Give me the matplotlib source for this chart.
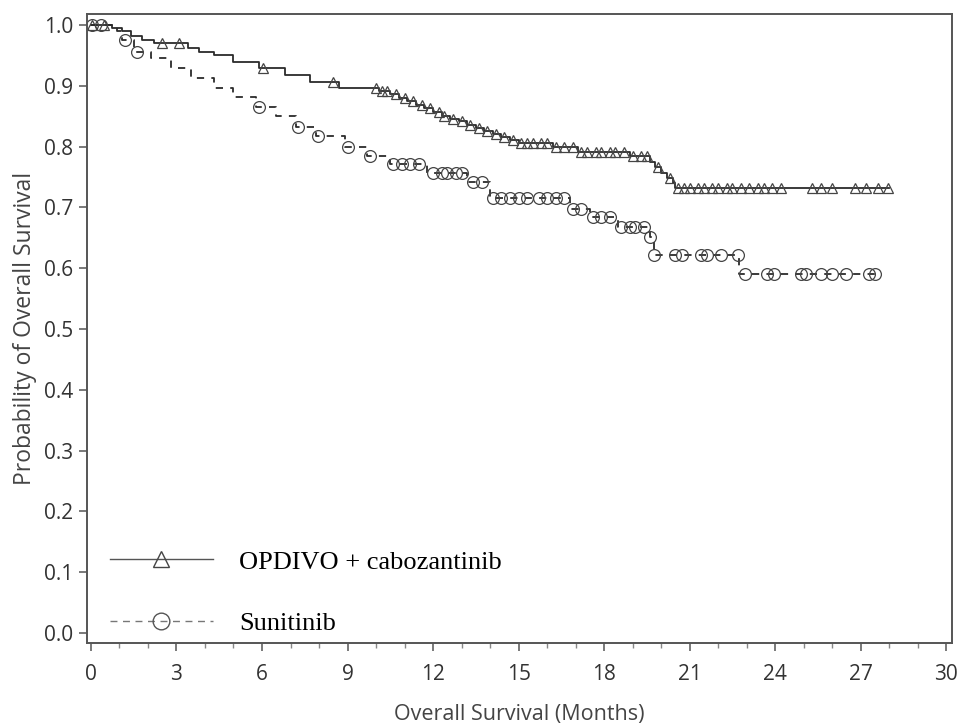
import numpy as np
import matplotlib
matplotlib.use("Agg")
import matplotlib.pyplot as plt  # noqa: E402
from matplotlib.ticker import MultipleLocator  # noqa: E402

# ---------------------------------------------------------------------------
# Data
# ---------------------------------------------------------------------------
nivo_times = [0, 0.75, 1.1, 1.4, 1.8, 2.2, 3.4, 3.8, 4.3, 5.0, 5.9, 6.8, 7.7,
              8.7, 10.1, 10.5, 10.8, 11.1, 11.4, 11.7, 12.0, 12.3, 12.6, 12.9,
              13.2, 13.5, 13.8, 14.1, 14.4, 14.7, 15.0, 16.2, 17.1, 18.9,
              19.6, 19.8, 20.0, 20.2, 20.4, 20.5, 28.0]
nivo_surv = [1.0, 0.995, 0.99, 0.982, 0.975, 0.97, 0.962, 0.955, 0.95, 0.94,
             0.93, 0.918, 0.907, 0.897, 0.892, 0.886, 0.880, 0.875, 0.869,
             0.863, 0.857, 0.851, 0.846, 0.842, 0.836, 0.831, 0.826, 0.821,
             0.816, 0.811, 0.806, 0.800, 0.791, 0.784, 0.775, 0.766, 0.757,
             0.748, 0.740, 0.732, 0.732]
nivo_censor = [0.05, 0.45, 2.5, 3.1, 6.05, 8.5, 10.0, 10.2, 10.4, 10.7, 11.0,
               11.3, 11.6, 11.9, 12.2, 12.4, 12.7, 13.0, 13.3, 13.6, 13.9,
               14.2, 14.5, 14.8, 15.1, 15.3, 15.5, 15.8, 16.0, 16.3, 16.6,
               16.9, 17.2, 17.4, 17.7, 17.9, 18.2, 18.4, 18.7, 19.0, 19.3,
               19.5, 19.9, 20.3, 20.6, 20.8, 21.0, 21.3, 21.5, 21.8, 22.0,
               22.3, 22.5, 22.8, 23.1, 23.4, 23.6, 23.9, 24.2, 25.3, 25.6,
               26.0, 26.8, 27.2, 27.6, 27.95]

suni_times = [0, 0.9, 1.1, 1.5, 2.1, 2.8, 3.5, 4.3, 5.0, 5.8, 6.5, 7.2, 7.9,
              8.9, 9.7, 10.5, 11.8, 13.2, 14.0, 16.8, 17.5, 18.5, 19.6, 19.75,
              22.75, 27.5]
suni_surv = [1.0, 0.99, 0.975, 0.955, 0.946, 0.929, 0.913, 0.897, 0.882,
             0.866, 0.85, 0.833, 0.817, 0.80, 0.785, 0.772, 0.757, 0.742,
             0.715, 0.697, 0.684, 0.668, 0.651, 0.622, 0.590, 0.590]
suni_censor = [0.05, 0.35, 1.2, 1.6, 5.9, 7.25, 7.96, 9.0, 9.8, 10.6, 10.9,
               11.2, 11.5, 12.0, 12.3, 12.5, 12.8, 13.0, 13.4, 13.7, 14.1,
               14.4, 14.7, 15.0, 15.3, 15.7, 16.0, 16.3, 16.6, 16.9, 17.2,
               17.6, 17.9, 18.2, 18.6, 18.9, 19.1, 19.4, 19.6, 19.75, 20.5,
               20.75, 21.4, 21.6, 22.1, 22.7, 22.95, 23.7, 23.95, 24.9, 25.1,
               25.6, 26.0, 26.5, 27.3, 27.5]

labels = ["OPDIVO + cabozantinib", "Sunitinib"]
x_ticks = np.arange(0, 31, 3)
y_ticks = np.round(np.arange(0, 1.01, 0.1), 1)


def _surv_at(times, surv, pts):
    """Step-function lookup of survival at censor times."""
    idx = np.searchsorted(times, pts, side="right") - 1
    return np.asarray(surv)[idx]


fig = plt.figure(figsize=(9.61, 7.24), dpi=100)
ax = fig.add_axes([0.0905, 0.112, 0.900, 0.8685])

line_col = "#2b2b2b"
frame_col = "#555555"

ax.step(nivo_times, nivo_surv, where="post", color=line_col, lw=1.3)
ax.plot(nivo_censor, _surv_at(nivo_times, nivo_surv, nivo_censor),
        ls="none", marker="^", ms=7.5, mfc="none", mec="#444444", mew=0.9)

ax.step(suni_times, suni_surv, where="post", color=line_col, lw=1.3,
        ls=(0, (4, 4)))
ax.plot(suni_censor, _surv_at(suni_times, suni_surv, suni_censor),
        ls="none", marker="o", ms=8.5, mfc="none", mec="#444444", mew=0.9)

# legend handles
h1, = ax.plot([], [], color="#555555", lw=1.0, marker="^", ms=11,
              mfc="none", mec="#444444", mew=1.0)
h2, = ax.plot([], [], color="#777777", lw=1.0, ls=(0, (5, 4)), marker="o",
              ms=12, mfc="none", mec="#555555", mew=1.0)
ax.legend([h1, h2], labels, loc="lower left", bbox_to_anchor=(-0.004, -0.03),
          frameon=False, handlelength=3.9, handletextpad=1.0,
          labelspacing=1.45, borderaxespad=0.6,
          prop={"family": "Liberation Serif", "size": 19})

ax.set_xlim(-0.14, 30.2)
ax.set_ylim(-0.0165, 1.018)
ax.set_xticks(x_ticks)
ax.set_yticks(y_ticks)
ax.xaxis.set_minor_locator(MultipleLocator(1))
ax.set_yticklabels([f"{v:.1f}" for v in y_ticks])

for s in ax.spines.values():
    s.set_color(frame_col)
    s.set_linewidth(1.4)
ax.tick_params(axis="both", which="major", direction="out", length=6,
               width=1.1, color=frame_col, labelsize=15, labelcolor="#333333")
ax.tick_params(axis="x", which="major", pad=9)
ax.tick_params(axis="y", which="major", pad=4)
ax.tick_params(axis="x", which="minor", direction="out", length=3.5,
               width=1.0, color="#888888")
for lab in ax.get_xticklabels() + ax.get_yticklabels():
    lab.set_family("Open Sans")

ax.set_xlabel("Overall Survival (Months)", family="Open Sans", fontsize=15.5,
              color="#444444", labelpad=14)
ax.set_ylabel("Probability of Overall Survival", family="Open Sans",
              fontsize=16.5, color="#444444", labelpad=5)

fig.savefig("out.png", dpi=100)
